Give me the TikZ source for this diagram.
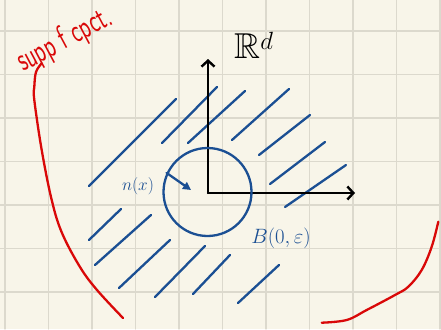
\documentclass[tikz,border=0pt]{standalone}
\usepackage{amssymb}
\usepackage{tikz}
\usetikzlibrary{arrows.meta}

\definecolor{paper}{HTML}{F8F5E9}
\definecolor{gridline}{HTML}{DCD9CD}
\definecolor{inkblue}{HTML}{1B4F93}
\definecolor{inkred}{HTML}{D90808}

\begin{document}
\begin{tikzpicture}[x=1pt, y=-1pt, line cap=round, line join=round,
	blueink/.style={draw=inkblue, line width=2.3pt},
	redink/.style={draw=inkred, line width=2.3pt},
	axis/.style={draw=black, line width=2.4pt, -{Straight Barb[length=6pt, width=13pt]}}]

% paper
\fill[paper] (0,0) rectangle (441,329);
\useasboundingbox (0,0) rectangle (441,329);
\foreach \gx in {5,48.5,...,441} \draw[gridline, line width=1.2pt] (\gx,0) -- (\gx,329);
\foreach \gy in {31,74.5,...,329} \draw[gridline, line width=1.2pt] (0,\gy) -- (441,\gy);

% hatching outside the ball
\draw[blueink] (89,186) -- (176,99)
	(162,143) -- (217,87)
	(188,143) -- (245,91)
	(232,140) -- (289,89)
	(259,155) -- (310,115)
	(270,184) -- (325,142)
	(285,207) -- (346,165)
	(89,240) -- (121,209)
	(95,265) -- (151,215)
	(119,288) -- (170,240)
	(155,297) -- (205,246)
	(193,294) -- (230,255)
	(238,303) -- (279,265);

% axes
\coordinate (O) at (208,193);
\coordinate (Ytop) at (208,59);
\coordinate (Xend) at (355,193);
\draw[axis] (O) -- (Ytop);
\draw[axis] (O) -- (Xend);
\node (Rd) at (254,45) {\fontsize{36}{40}\selectfont$\mathbb{R}^{d}$};

% ball and normal
\node[circle, blueink, minimum size=88pt, inner sep=0pt] (ball) at (207.5,192) {};
\coordinate (tip) at (191,190);
\draw[blueink, -{Triangle[length=8pt, width=8pt]}] (ball.155) -- (tip);
\node[text=inkblue] (nx) at (138,186) {\fontsize{18}{20}\selectfont$n(x)$};
\node[text=inkblue] (Bball) at (281,238) {\fontsize{21}{24}\selectfont$B(0,\varepsilon)$};

% support
\draw[redink] plot[smooth, tension=0.6] coordinates {(41.7,63.3) (36,72) (34.3,87) (34.3,100) (41.7,150) (51.7,200) (62,233) (80,267) (97,290) (123,318)};
\draw[redink] plot[smooth, tension=0.6] coordinates {(438.3,221.7) (431.7,246.7) (421.7,270) (408.3,286.7) (395,295) (366.7,310) (346.7,320) (321.7,322.7)};
\node[text=inkred, rotate=28, inner sep=0pt] (supp) at (65,40) {\scalebox{0.85}[1.3]{\fontsize{26}{28}\selectfont\sffamily supp f cpct.}};

\end{tikzpicture}
\end{document}
